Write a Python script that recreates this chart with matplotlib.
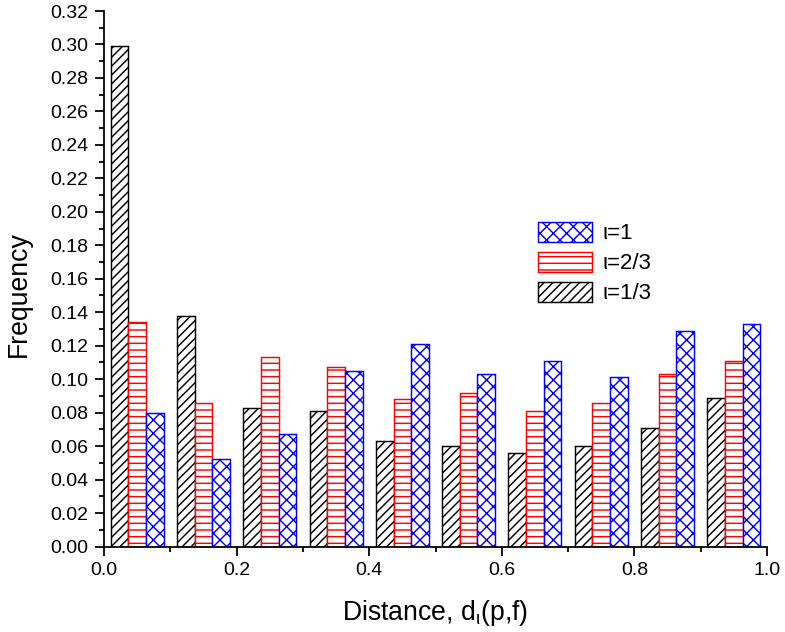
import matplotlib
matplotlib.use("Agg")
import matplotlib.pyplot as plt
import numpy as np
from matplotlib.ticker import MultipleLocator, FormatStrFormatter

plt.rcParams['font.family'] = ['Liberation Sans', 'DejaVu Sans']
plt.rcParams['mathtext.fontset'] = 'custom'
plt.rcParams['mathtext.rm'] = 'Liberation Sans'
plt.rcParams['mathtext.it'] = 'Liberation Sans'
plt.rcParams['hatch.linewidth'] = 1.3

bin_starts = [0.0, 0.1, 0.2, 0.3, 0.4, 0.5, 0.6, 0.7, 0.8, 0.9]
freq_third = [0.299, 0.138, 0.083, 0.081, 0.063, 0.060, 0.056, 0.060, 0.071, 0.089]
freq_twothird = [0.134, 0.086, 0.113, 0.107, 0.088, 0.092, 0.081, 0.086, 0.103, 0.111]
freq_one = [0.080, 0.052, 0.067, 0.105, 0.121, 0.103, 0.111, 0.101, 0.129, 0.133]
labels = ['ι=1/3', 'ι=2/3', 'ι=1']

DPI = 80
fig = plt.figure(figsize=(785 / DPI, 632 / DPI), dpi=DPI)
ax = fig.add_axes([104 / 785, 1 - 546.5 / 632, (767 - 104) / 785, (546.5 - 11) / 632])

x = np.array(bin_starts)
w = 0.08 / 3
series = [
    (freq_third, 'black', '///', labels[0]),
    (freq_twothird, 'red', '--', labels[1]),
    (freq_one, 'blue', 'xx', labels[2]),
]
handles = []
for k, (vals, col, hatch, lab) in enumerate(series):
    h = ax.bar(x + 0.01 + w * (k + 0.5), vals, width=w, facecolor='white',
               edgecolor=col, hatch=hatch, linewidth=1.3, label=lab)
    handles.append(h)

ax.set_xlim(0, 1.0)
ax.set_ylim(0, 0.32)
ax.xaxis.set_major_locator(MultipleLocator(0.2))
ax.xaxis.set_minor_locator(MultipleLocator(0.1))
ax.yaxis.set_major_locator(MultipleLocator(0.02))
ax.yaxis.set_minor_locator(MultipleLocator(0.01))
ax.xaxis.set_major_formatter(FormatStrFormatter('%.1f'))
ax.yaxis.set_major_formatter(FormatStrFormatter('%.2f'))

for s in ['top', 'right']:
    ax.spines[s].set_visible(False)
for s in ['left', 'bottom']:
    ax.spines[s].set_linewidth(1.6)
ax.tick_params(which='major', direction='out', length=8, width=1.6, labelsize=17.5)
ax.tick_params(which='minor', direction='out', length=4.5, width=1.6)
ax.tick_params(axis='x', which='major', pad=6)
ax.tick_params(axis='y', which='major', pad=6.5)

ax.set_ylabel('Frequency', fontsize=24)
ax.yaxis.set_label_coords(-0.109, 0.4715)
ax.set_xlabel(r'Distance, d$_{\mathregular{ι}}$(p,f)', fontsize=24, labelpad=17)

leg = ax.legend(handles[::-1], [labels[2], labels[1], labels[0]],
                loc='upper left', bbox_to_anchor=(529 / 785, 1 - 213 / 632),
                bbox_transform=fig.transFigure, frameon=False, fontsize=20,
                handlelength=2.45, handleheight=1.0, labelspacing=0.33,
                handletextpad=0.45, borderaxespad=0)

fig.savefig('out.png', dpi=DPI)
